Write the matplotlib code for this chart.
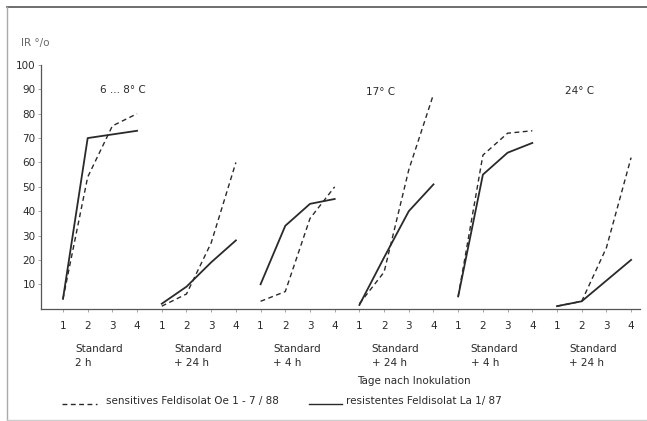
import matplotlib
matplotlib.use("Agg")
import matplotlib.pyplot as plt
from matplotlib.lines import Line2D

# days after inoculation, 6 groups of 4 days on one continuous x axis
days = [1, 2, 3, 4]
n_groups = 6

# IR % per group
sensitive = [
    [4, 54, 75, 80],
    [1, 6, 27, 60],
    [3, 7, 37, 50],
    [2, 15, 57, 88],
    [5, 63, 72, 73],
    [1, 3, 25, 62],
]
resistant = [
    [4, 70, 71.5, 73],
    [2, 9, 19, 28],
    [10, 34, 43, 45],
    [1.5, 21, 40, 51],
    [5, 55, 64, 68],
    [1, 3, 11.5, 20],
]

group_labels = ["Standard\n2 h", "Standard\n+ 24 h", "Standard\n+ 4 h",
                "Standard\n+ 24 h", "Standard\n+ 4 h", "Standard\n+ 24 h"]
temp_labels = ["6 ... 8° C", "17° C", "24° C"]
temp_pos = [(3.43, 89.7), (13.85, 89), (21.9, 89.5)]
y_ticks = [10, 20, 30, 40, 50, 60, 70, 80, 90, 100]

ink = "#2a2a2a"
fs = 7.5

fig = plt.figure(figsize=(6.47, 4.21), dpi=100)
ax = fig.add_axes([41 / 647, (421 - 308.6) / 421, (640 - 41) / 647, (308.6 - 65) / 421])

for g in range(n_groups):
    xs = [g * 4 + d for d in days]
    ax.plot(xs, sensitive[g], color=ink, lw=1.0, ls=(0, (3.5, 2.5)))
    ax.plot(xs, resistant[g], color=ink, lw=1.3)

ax.set_xlim(0.11, 24.36)
ax.set_ylim(0, 100)

ax.set_xticks(range(1, 4 * n_groups + 1))
ax.set_xticklabels([str(d) for _ in range(n_groups) for d in days])
ax.set_yticks(y_ticks)
ax.tick_params(axis="both", labelsize=fs, length=2, width=0.6)
ax.tick_params(axis="x", pad=7, colors="#999999", labelcolor=ink)
ax.tick_params(axis="y", pad=2, colors="#999999", labelcolor=ink)

for side in ("top", "right"):
    ax.spines[side].set_visible(False)
for side in ("left", "bottom"):
    ax.spines[side].set_color("#555555")
    ax.spines[side].set_linewidth(0.9)

for g, lab in enumerate(group_labels):
    ax.text(g * 4 + 1.5, -14.5, lab, fontsize=fs, color=ink, ha="left", va="top",
            linespacing=1.5)

ax.text(15.2, -27.5, "Tage nach Inokulation", fontsize=fs, color=ink, ha="center", va="top")
ax.text(-0.7, 109.2, "IR °/o", fontsize=fs, color="#666666", ha="left", va="center")

for lab, (x, y) in zip(temp_labels, temp_pos):
    ax.text(x, y, lab, fontsize=fs, color=ink, ha="center", va="center")

# legend drawn below the axis like the original
fig.add_artist(Line2D([62 / 647, 97 / 647], [1 - 404 / 421] * 2, color=ink, lw=1.0,
                      ls=(0, (3.5, 2.5))))
fig.text(106 / 647, 1 - 401 / 421, "sensitives Feldisolat Oe 1 - 7 / 88", fontsize=fs,
         color=ink, va="center")
fig.add_artist(Line2D([309 / 647, 342 / 647], [1 - 404 / 421] * 2, color=ink, lw=1.0))
fig.text(346 / 647, 1 - 401 / 421, "resistentes Feldisolat La 1/ 87", fontsize=fs,
         color=ink, va="center")

# scanned page frame
fig.add_artist(Line2D([7 / 647, 1], [1 - 7 / 421] * 2, color="#555555", lw=1.2))
fig.add_artist(Line2D([7 / 647] * 2, [1 - 7 / 421, 1 - 420 / 421], color="#aaaaaa", lw=1.0))
fig.add_artist(Line2D([7 / 647, 1], [1 - 420 / 421] * 2, color="#cccccc", lw=1.0))

fig.savefig("out.png", dpi=100)
